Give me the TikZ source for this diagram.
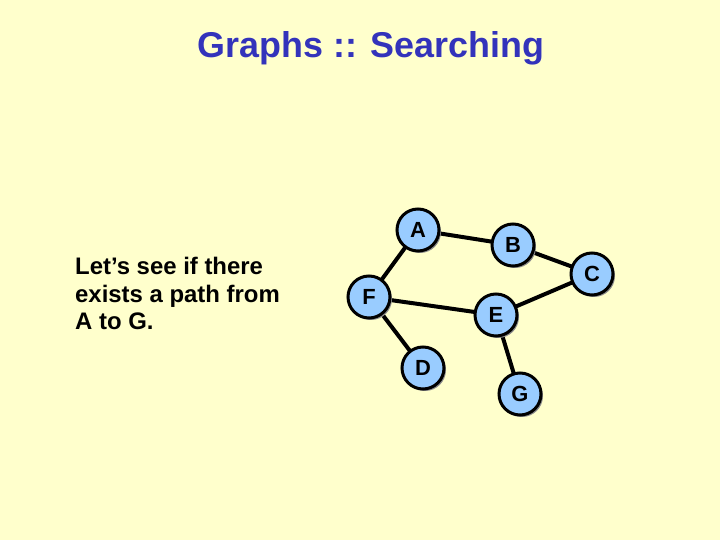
\documentclass[tikz,border=0pt]{standalone}
\usepackage{fontspec}
\setmainfont{Liberation Sans}
\usetikzlibrary{shadows}
\definecolor{bg}{RGB}{255,255,204}
\definecolor{nodefill}{RGB}{153,204,255}
\definecolor{titleblue}{RGB}{51,51,187}
\tikzset{
  vertex/.style={circle, draw=black, line width=3bp, fill=nodefill, minimum size=42bp, inner sep=0pt,
    font=\bfseries\fontsize{22}{22}\selectfont,
    drop shadow={shadow xshift=2bp, shadow yshift=-2bp, fill=black!45, opacity=1}},
  edge/.style={line width=4bp, black}
}
\begin{document}
\begin{tikzpicture}[x=1bp,y=1bp]
\fill[bg] (0,0) rectangle (720,540);
\useasboundingbox (0,0) rectangle (720,540);
\node[text=titleblue, font=\bfseries\fontsize{36}{40}\selectfont, anchor=base] (title) at (371,482) {Graphs :: Searching};
\node[anchor=base west, align=left, inner sep=0pt, font=\bfseries\fontsize{24}{28}\selectfont] (txt) at (75,210) {Let’s see if there\\exists a path from\\A to G.};
\coordinate (pA) at (418,310);
\coordinate (pB) at (513,295);
\coordinate (pC) at (592,266);
\coordinate (pF) at (369,243);
\coordinate (pE) at (496,225);
\coordinate (pD) at (423,172);
\coordinate (pG) at (520,146);
\draw[edge] (pA) -- (pB);
\draw[edge] (pB) -- (pC);
\draw[edge] (pC) -- (pE);
\draw[edge] (pA) -- (pF);
\draw[edge] (pF) -- (pE);
\draw[edge] (pF) -- (pD);
\draw[edge] (pE) -- (pG);
\node[vertex] (A) at (pA) {A};
\node[vertex] (B) at (pB) {B};
\node[vertex] (C) at (pC) {C};
\node[vertex] (F) at (pF) {F};
\node[vertex] (E) at (pE) {E};
\node[vertex] (D) at (pD) {D};
\node[vertex] (G) at (pG) {G};
\end{tikzpicture}
\end{document}
